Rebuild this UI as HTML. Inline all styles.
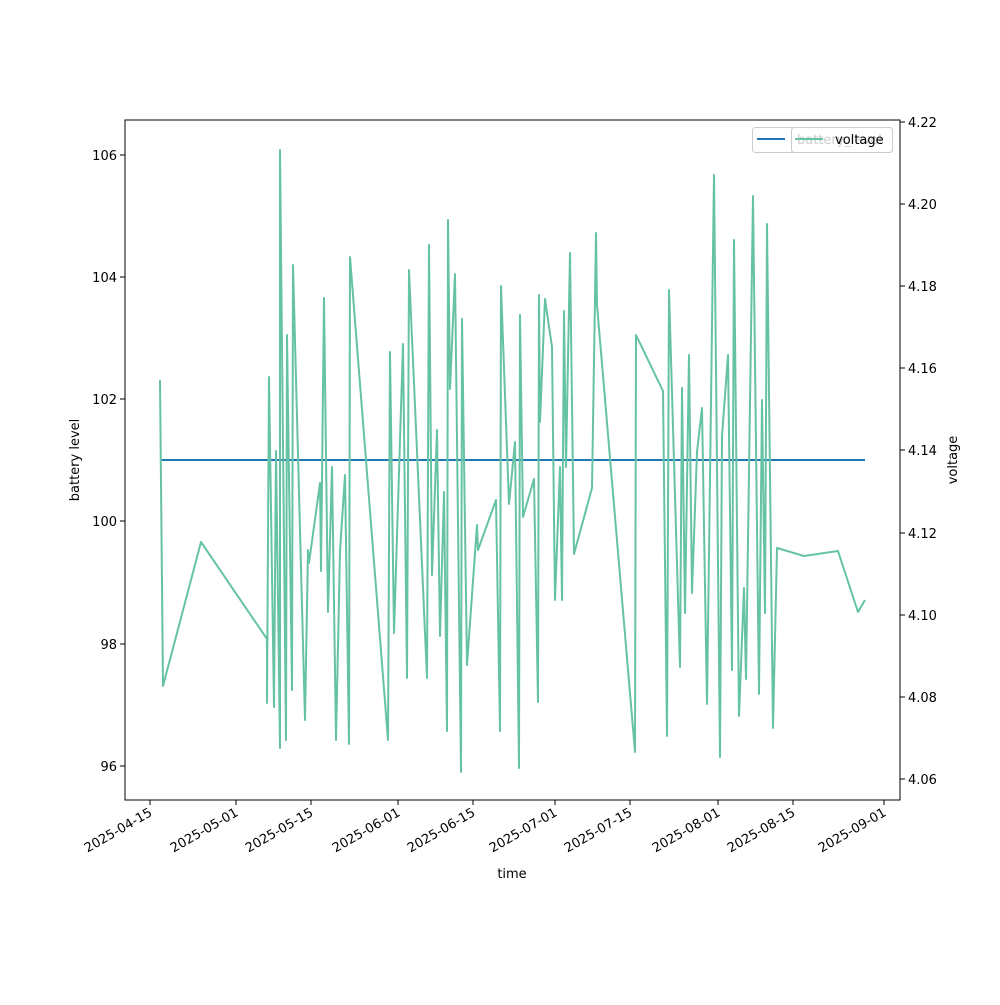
<!DOCTYPE html>
<html><head><meta charset="utf-8"><style>body{margin:0;background:#fff}</style></head><body>
<svg width="1000" height="1000" xmlns="http://www.w3.org/2000/svg" font-family="DejaVu Sans, Liberation Sans, sans-serif" font-size="13">
<rect width="1000" height="1000" fill="#fff"/>
<line x1="160" y1="460" x2="865" y2="460" stroke="#1f77b4" stroke-width="2"/>
<polyline fill="none" stroke="#66c2a5" stroke-width="2" stroke-linejoin="round" points="160,380 163,686 201,542 267,639 267,703 269,377 274,707 276,451 280,748 280,150 286,740 287,335 292,690 293,265 305,720 308,550 309,563 320,483 321,571 324,298 328,612 332,467 336,740 340,551 345,475 349,744 350,257 388,740 390,352 394,633 403,344 407,678 409,270 427,678 429,245 432,575 437,430 440,636 444,492 447,731 448,220 450,389 455,274 461,772 462,319 467,665 477,525 478,550 496,500 500,731 501,286 509,504 515,442 519,768 520,315 523,517 534,479 538,702 539,295 540,422 545,299 552,347 555,600 560,467 562,600 564,311 566,467 570,253 574,554 592,488 596,233 597,305 635,752 636,335 663,391 667,736 669,290 680,667 682,388 685,613 689,355 692,593 697,452 702,408 707,704 714,175 720,757 722,436 728,355 732,670 734,240 739,716 744,588 746,679 753,196 759,694 762,400 765,613 767,224 773,728 777,548 804,556 838,551 858,612 865,600"/>
<rect x="125" y="120" width="775" height="680" fill="none" stroke="#000" stroke-width="1"/>
<g stroke="#000">
<line x1="125" y1="155" x2="120" y2="155"/><line x1="125" y1="277" x2="120" y2="277"/><line x1="125" y1="399" x2="120" y2="399"/><line x1="125" y1="521" x2="120" y2="521"/><line x1="125" y1="644" x2="120" y2="644"/><line x1="125" y1="766" x2="120" y2="766"/>
<line x1="900" y1="122" x2="905" y2="122"/><line x1="900" y1="204" x2="905" y2="204"/><line x1="900" y1="286" x2="905" y2="286"/><line x1="900" y1="368" x2="905" y2="368"/><line x1="900" y1="450" x2="905" y2="450"/><line x1="900" y1="533" x2="905" y2="533"/><line x1="900" y1="615" x2="905" y2="615"/><line x1="900" y1="697" x2="905" y2="697"/><line x1="900" y1="779" x2="905" y2="779"/>
<line x1="150" y1="800" x2="150" y2="805"/><line x1="236" y1="800" x2="236" y2="805"/><line x1="311" y1="800" x2="311" y2="805"/><line x1="398" y1="800" x2="398" y2="805"/><line x1="473" y1="800" x2="473" y2="805"/><line x1="555" y1="800" x2="555" y2="805"/><line x1="630" y1="800" x2="630" y2="805"/><line x1="718" y1="800" x2="718" y2="805"/><line x1="793" y1="800" x2="793" y2="805"/><line x1="884" y1="800" x2="884" y2="805"/>
</g>
<g text-anchor="end">
<text x="117" y="160">106</text><text x="117" y="282">104</text><text x="117" y="404">102</text><text x="117" y="526">100</text><text x="117" y="649">98</text><text x="117" y="771">96</text>
</g>
<g>
<text x="908" y="127">4.22</text><text x="908" y="209">4.20</text><text x="908" y="291">4.18</text><text x="908" y="373">4.16</text><text x="908" y="455">4.14</text><text x="908" y="538">4.12</text><text x="908" y="620">4.10</text><text x="908" y="702">4.08</text><text x="908" y="784">4.06</text>
</g>
<g text-anchor="end">
<text transform="translate(153,815) rotate(-30)">2025-04-15</text>
<text transform="translate(239,815) rotate(-30)">2025-05-01</text>
<text transform="translate(314,815) rotate(-30)">2025-05-15</text>
<text transform="translate(401,815) rotate(-30)">2025-06-01</text>
<text transform="translate(476,815) rotate(-30)">2025-06-15</text>
<text transform="translate(558,815) rotate(-30)">2025-07-01</text>
<text transform="translate(633,815) rotate(-30)">2025-07-15</text>
<text transform="translate(721,815) rotate(-30)">2025-08-01</text>
<text transform="translate(796,815) rotate(-30)">2025-08-15</text>
<text transform="translate(887,815) rotate(-30)">2025-09-01</text>
</g>
<text x="512" y="878" text-anchor="middle">time</text>
<text transform="translate(79,460) rotate(-90)" text-anchor="middle">battery level</text>
<text transform="translate(957,460) rotate(-90)" text-anchor="middle">voltage</text>
<rect x="752.5" y="127.5" width="140" height="25" rx="3" fill="#fff" fill-opacity="0.8" stroke="#ccc"/>
<line x1="757" y1="139" x2="785" y2="139" stroke="#1f77b4" stroke-width="2"/>
<text x="797" y="144">battery_level</text>
<rect x="791.5" y="127.5" width="101" height="25" rx="3" fill="#fff" fill-opacity="0.8" stroke="#ccc"/>
<line x1="795" y1="139" x2="823" y2="139" stroke="#66c2a5" stroke-width="2"/>
<text x="835" y="144">voltage</text>
</svg>
</body></html>
